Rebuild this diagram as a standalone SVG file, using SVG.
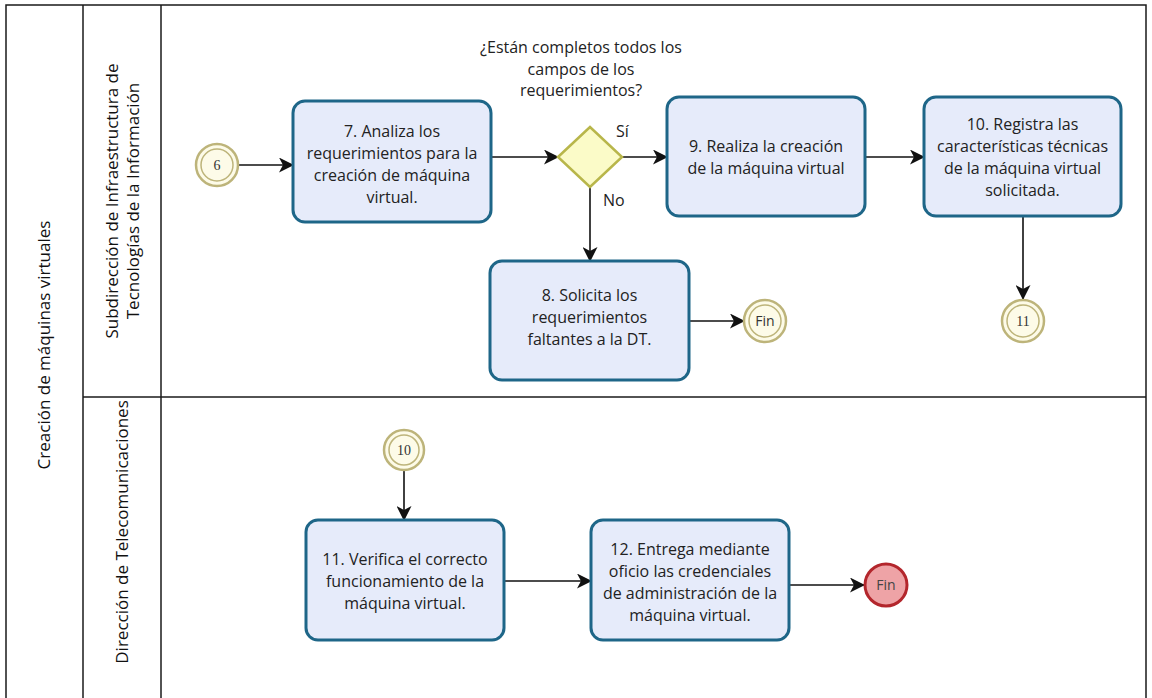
<svg xmlns="http://www.w3.org/2000/svg" width="1152" height="698" viewBox="0 0 1152 698">
  <defs>
    <marker id="arrow" viewBox="0 0 15 15" refX="14" refY="7.5" markerWidth="15" markerHeight="15" markerUnits="userSpaceOnUse" orient="auto">
      <path d="M0,0 L15,7.5 L0,15 L4,7.5 Z" fill="#111"/>
    </marker>
    <style>
      .pool { fill: none; stroke: #1a1a1a; stroke-width: 1.5; }
      .lbl { font-family: "Open Sans", "Noto Sans", sans-serif; font-size: 17px; fill: #111; text-anchor: middle; }
      .task rect { fill: #e6ebfa; stroke: #1e6688; stroke-width: 3; }
      .task text, .q { font-family: "Open Sans", "Noto Sans", sans-serif; font-size: 16px; fill: #222; text-anchor: middle; }
      .ev circle.o { fill: #fdfbe8; stroke: #bdb47a; stroke-width: 2.5; }
      .ev circle.i { fill: none; stroke: #bdb47a; stroke-width: 1.5; }
      .ev text { font-family: "Liberation Serif", "DejaVu Serif", serif; font-size: 14px; fill: #333; text-anchor: middle; }
      .ev text.fin { font-family: "Open Sans", "Noto Sans", sans-serif; font-size: 14px; }
      .endred circle { fill: #eea3a6; stroke: #b3262c; stroke-width: 3; }
      .endred text { font-family: "Open Sans", "Noto Sans", sans-serif; font-size: 14px; fill: #444; text-anchor: middle; }
      .gw polygon { fill: #fbfbc8; stroke: #b8b64a; stroke-width: 2.5; }
      .edge { fill: none; stroke: #111; stroke-width: 1.6; marker-end: url(#arrow); }
      .elbl { font-family: "Open Sans", "Noto Sans", sans-serif; font-size: 16px; fill: #222; }
    </style>
  </defs>

  <rect width="1152" height="698" fill="#fff"/>

  <!-- pool and lanes -->
  <g id="pool">
    <path class="pool" d="M6,698 V5 H1146 V698"/>
    <line class="pool" x1="83" y1="5" x2="83" y2="698"/>
    <line class="pool" x1="161" y1="5" x2="161" y2="698"/>
    <line class="pool" x1="83" y1="397" x2="1146" y2="397"/>
    <text class="lbl" transform="translate(50,345) rotate(-90)">Creación de máquinas virtuales</text>
    <text class="lbl" transform="translate(118,201) rotate(-90)">Subdirección de Infraestructura de</text>
    <text class="lbl" transform="translate(139,201) rotate(-90)">Tecnologías de la Información</text>
    <text class="lbl" transform="translate(128,532) rotate(-90)">Dirección de Telecomunicaciones</text>
  </g>

  <!-- connectors -->
  <g id="connectors">
    <line class="edge" x1="239" y1="165" x2="293" y2="165"/>
    <line class="edge" x1="491" y1="157" x2="558" y2="157"/>
    <line class="edge" x1="622" y1="157" x2="667" y2="157"/>
    <line class="edge" x1="865" y1="157" x2="924" y2="157"/>
    <line class="edge" x1="1023" y1="216" x2="1023" y2="299"/>
    <line class="edge" x1="590" y1="187" x2="590" y2="261"/>
    <line class="edge" x1="689" y1="321" x2="744" y2="321"/>
    <line class="edge" x1="404" y1="470" x2="404" y2="520"/>
    <line class="edge" x1="504" y1="581" x2="591" y2="581"/>
    <line class="edge" x1="789" y1="585" x2="864" y2="585"/>
    <text class="elbl" x="616" y="137">Sí</text>
    <text class="elbl" x="603" y="206">No</text>
  </g>

  <!-- events -->
  <g id="ev6" class="ev">
    <circle class="o" cx="217" cy="165" r="21"/>
    <circle class="i" cx="217" cy="165" r="16"/>
    <text x="217" y="170">6</text>
  </g>
  <g id="ev11" class="ev">
    <circle class="o" cx="1023" cy="321" r="21"/>
    <circle class="i" cx="1023" cy="321" r="16"/>
    <text x="1023" y="326">11</text>
  </g>
  <g id="fin1" class="ev">
    <circle class="o" cx="765" cy="321" r="21"/>
    <circle class="i" cx="765" cy="321" r="16"/>
    <text class="fin" x="765" y="326">Fin</text>
  </g>
  <g id="ev10" class="ev">
    <circle class="o" cx="404" cy="450" r="20"/>
    <circle class="i" cx="404" cy="450" r="15"/>
    <text x="404" y="455">10</text>
  </g>
  <g id="fin2" class="endred">
    <circle cx="886" cy="585" r="21"/>
    <text x="886" y="590">Fin</text>
  </g>

  <!-- gateway -->
  <g id="gw" class="gw">
    <polygon points="558,157 590,127 622,157 590,187"/>
    <text class="q" x="581" y="53">¿Están completos todos los</text>
    <text class="q" x="581" y="75">campos de los</text>
    <text class="q" x="581" y="96">requerimientos?</text>
  </g>

  <!-- tasks -->
  <g id="t7" class="task">
    <rect x="293" y="101" width="198" height="121" rx="12"/>
    <text x="392" y="137">7. Analiza los</text>
    <text x="392" y="159">requerimientos para la</text>
    <text x="392" y="181">creación de máquina</text>
    <text x="392" y="203">virtual.</text>
  </g>
  <g id="t9" class="task">
    <rect x="667" y="97" width="198" height="119" rx="12"/>
    <text x="766" y="152">9. Realiza la creación</text>
    <text x="766" y="174">de la máquina virtual</text>
  </g>
  <g id="t10" class="task">
    <rect x="924" y="97" width="197" height="119" rx="12"/>
    <text x="1022.5" y="130">10. Registra las</text>
    <text x="1022.5" y="152">características técnicas</text>
    <text x="1022.5" y="174">de la máquina virtual</text>
    <text x="1022.5" y="196">solicitada.</text>
  </g>
  <g id="t8" class="task">
    <rect x="490" y="261" width="199" height="119" rx="12"/>
    <text x="589.5" y="301">8. Solicita los</text>
    <text x="589.5" y="323">requerimientos</text>
    <text x="589.5" y="345">faltantes a la DT.</text>
  </g>
  <g id="t11" class="task">
    <rect x="306" y="520" width="198" height="120" rx="12"/>
    <text x="405" y="565">11. Verifica el correcto</text>
    <text x="405" y="587">funcionamiento de la</text>
    <text x="405" y="609">máquina virtual.</text>
  </g>
  <g id="t12" class="task">
    <rect x="591" y="520" width="198" height="120" rx="12"/>
    <text x="690" y="555">12. Entrega mediante</text>
    <text x="690" y="577">oficio las credenciales</text>
    <text x="690" y="599">de administración de la</text>
    <text x="690" y="621">máquina virtual.</text>
  </g>
</svg>
